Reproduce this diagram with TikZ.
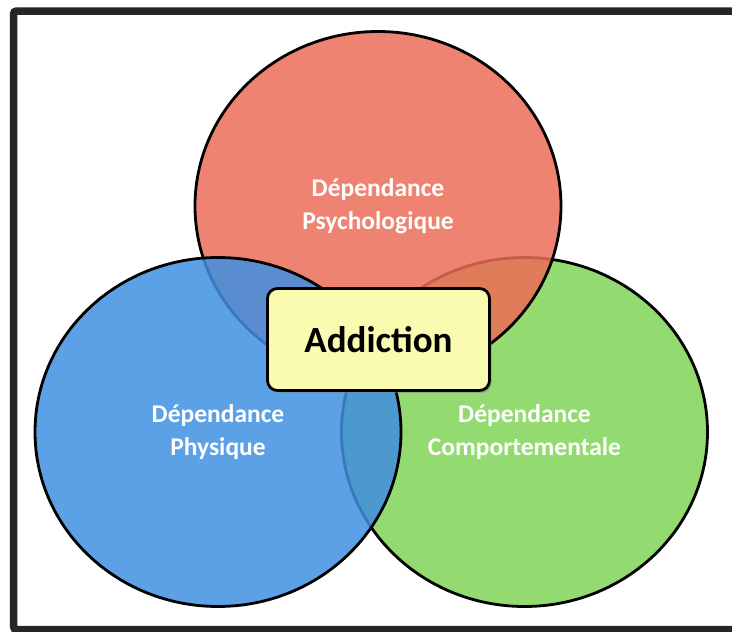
\documentclass[tikz,border=0pt]{standalone}
\usepackage{fontspec}
\newfontfamily\calibfont{Carlito}
\usetikzlibrary{shapes.geometric,shadows}
\definecolor{psyred}{RGB}{236,109,88}
\definecolor{physblue}{RGB}{64,143,225}
\definecolor{compgreen}{RGB}{128,213,87}
\definecolor{boxyellow}{RGB}{250,250,176}
\definecolor{framegray}{RGB}{38,38,38}

\begin{document}
\begin{tikzpicture}[x=1pt,y=-1pt,
    set/.style={ellipse, draw=black, line width=2.8pt, fill opacity=0.85, text opacity=1,
        minimum width=366pt, minimum height=349pt, inner sep=0pt,
        text=white, align=center, font=\calibfont\bfseries\fontsize{25.5}{33}\selectfont},
    keybox/.style={rectangle, rounded corners=10pt, draw=black, line width=2.8pt,
        fill=boxyellow, minimum width=222pt, minimum height=102pt,
        drop shadow={opacity=0.45, shadow xshift=2pt, shadow yshift=-2.5pt},
        font=\calibfont\bfseries\fontsize{37}{42}\selectfont}]
    \useasboundingbox (0,0) rectangle (732,632);
    \clip (0,0) rectangle (732,632);

    % Frame
    \draw[framegray, line width=7.5pt, rounded corners=3pt] (13.5,11) rectangle (745,629.5);

    % Circles (green first, red and blue lie over it)
    \node[set, fill=compgreen] (comport) at (524.5,432) {Dépendance\\Comportementale};
    \node[set, fill=psyred] (psycho) at (378,206) {Dépendance\\Psychologique};
    \node[set, fill=physblue] (physique) at (218,432) {Dépendance\\Physique};

    % Centre
    \node[keybox] (addiction) at (378.5,339.5) {Addiction};
\end{tikzpicture}
\end{document}
